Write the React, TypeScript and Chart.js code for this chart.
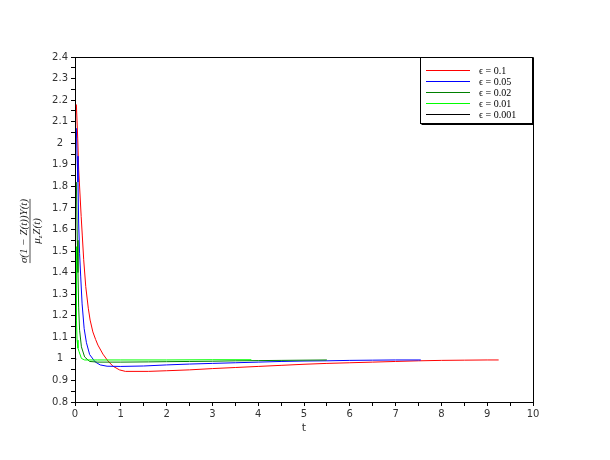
import React, { useEffect, useRef } from "react";
import { Chart, registerables } from "chart.js";

Chart.register(...registerables);

// ---- data ----
const seriesLabels = ["ϵ = 0.1", "ϵ = 0.05", "ϵ = 0.02", "ϵ = 0.01", "ϵ = 0.001"];
const seriesColors = ["#ff0000", "#0000ff", "#008000", "#00ff00", "#000000"];

const redT = [0.03, 0.06, 0.08, 0.11, 0.135, 0.16, 0.19, 0.235, 0.29, 0.33, 0.39, 0.45, 0.5, 0.61, 0.72, 0.83, 0.97, 1.1, 1.6, 2.0, 2.5, 3.0, 3.5, 4.0, 4.5, 5.0, 5.5, 6.0, 6.5, 7.0, 7.5, 8.0, 8.5, 9.0, 9.25];
const redV = [2.18, 2.02, 1.88, 1.76, 1.66, 1.57, 1.46, 1.335, 1.235, 1.18, 1.125, 1.09, 1.064, 1.022, 0.99, 0.966, 0.949, 0.942, 0.942, 0.945, 0.949, 0.955, 0.96, 0.965, 0.97, 0.975, 0.979, 0.982, 0.985, 0.988, 0.991, 0.993, 0.994, 0.995, 0.995];

const blueT = [0.03, 0.045, 0.065, 0.08, 0.1, 0.125, 0.155, 0.2, 0.25, 0.32, 0.44, 0.55, 0.7, 1.0, 1.5, 2.0, 2.5, 3.0, 3.5, 4.0, 4.5, 5.0, 5.5, 6.0, 6.5, 7.0, 7.55];
const blueV = [2.07, 1.94, 1.82, 1.63, 1.49, 1.38, 1.255, 1.14, 1.075, 1.02, 0.986, 0.972, 0.966, 0.965, 0.967, 0.972, 0.976, 0.979, 0.982, 0.985, 0.988, 0.99, 0.991, 0.993, 0.994, 0.995, 0.995];

const greenT = [0.03, 0.05, 0.065, 0.08, 0.1, 0.14, 0.21, 0.32, 0.5, 1.0, 1.6, 2.0, 2.5, 3.0, 3.5, 4.0, 4.5, 5.0, 5.5];
const greenV = [1.82, 1.55, 1.4, 1.24, 1.133, 1.056, 1.009, 0.988, 0.985, 0.985, 0.986, 0.987, 0.988, 0.989, 0.991, 0.992, 0.993, 0.994, 0.995];

const lightT = [0.025, 0.032, 0.045, 0.065, 0.09, 0.14, 0.21, 0.5, 1.0, 2.0, 3.0, 3.85];
const lightV = [1.52, 1.18, 1.087, 1.05, 1.033, 1.002, 0.995, 0.995, 0.995, 0.995, 0.996, 0.996];

const blackT = [0.002, 0.004, 0.007, 0.012, 0.02, 0.03];
const blackV = [2.15, 1.6, 1.25, 1.06, 1.0, 0.999];

const xMin = 0, xMax = 10, xStep = 0.5, xMajor = 1;
const yMin = 0.8, yMax = 2.4, yStep = 0.05, yMajor = 0.1;

const xTitle = "t";
const yTitleNumerator = "σ(1 − Z(t))Y(t)";
const yTitleDenomMain = "μ";
const yTitleDenomSub = "z";
const yTitleDenomRest = "Z(t)";

const isMajor = (v: number, m: number) => Math.abs(v / m - Math.round(v / m)) < 1e-6;
const fmt = (v: number) => String(Number(v.toFixed(2)));

const framePlugin = {
  id: "framePlugin",
  afterDraw(chart: any) {
    const ctx = chart.ctx as CanvasRenderingContext2D;
    const a = chart.chartArea;
    ctx.save();
    // top and right frame
    ctx.strokeStyle = "#000";
    ctx.lineWidth = 1;
    ctx.beginPath();
    ctx.moveTo(Math.round(a.left) + 0.5, Math.round(a.top) + 0.5);
    ctx.lineTo(Math.round(a.right) + 0.5, Math.round(a.top) + 0.5);
    ctx.lineTo(Math.round(a.right) + 0.5, Math.round(a.bottom) + 0.5);
    ctx.stroke();

    // legend box
    const bx = 420.5, by = 57.5, bw = 112, bh = 66;
    ctx.fillStyle = "#fff";
    ctx.fillRect(bx, by, bw, bh);
    ctx.strokeStyle = "#000";
    ctx.strokeRect(bx, by, bw, bh);
    ctx.beginPath();
    ctx.moveTo(bx + bw + 1, by + 1);
    ctx.lineTo(bx + bw + 1, by + bh + 1);
    ctx.lineTo(bx + 1, by + bh + 1);
    ctx.stroke();
    const ds = chart.data.datasets;
    ctx.font = "10px 'Liberation Serif', 'DejaVu Serif', serif";
    ctx.textBaseline = "middle";
    ctx.textAlign = "left";
    for (let i = 0; i < ds.length; i++) {
      const yy = 70 + i * 11.1;
      ctx.strokeStyle = ds[i].borderColor;
      ctx.lineWidth = 1;
      ctx.beginPath();
      ctx.moveTo(426, Math.round(yy) + 0.5);
      ctx.lineTo(470, Math.round(yy) + 0.5);
      ctx.stroke();
      ctx.fillStyle = "#000";
      ctx.fillText(ds[i].label, 479, Math.round(yy) + 1);
    }

    // y axis title (fraction)
    ctx.translate(30, 231);
    ctx.rotate(-Math.PI / 2);
    ctx.fillStyle = "#222";
    ctx.strokeStyle = "#222";
    ctx.textBaseline = "alphabetic";
    ctx.font = "italic 11px 'Liberation Serif', 'DejaVu Serif', serif";
    const nw = ctx.measureText(yTitleNumerator).width;
    ctx.textAlign = "center";
    ctx.fillText(yTitleNumerator, 0, -3);
    ctx.lineWidth = 0.8;
    ctx.beginPath();
    ctx.moveTo(-nw / 2, 0);
    ctx.lineTo(nw / 2, 0);
    ctx.stroke();
    ctx.textAlign = "left";
    const mW = ctx.measureText(yTitleDenomMain).width;
    const rW = ctx.measureText(yTitleDenomRest).width;
    ctx.font = "italic 7px 'Liberation Serif', 'DejaVu Serif', serif";
    const sW = ctx.measureText(yTitleDenomSub).width;
    const total = mW + sW + 1 + rW;
    let x0 = -total / 2;
    ctx.font = "italic 11px 'Liberation Serif', 'DejaVu Serif', serif";
    ctx.fillText(yTitleDenomMain, x0, 10);
    x0 += mW;
    ctx.font = "italic 7px 'Liberation Serif', 'DejaVu Serif', serif";
    ctx.fillText(yTitleDenomSub, x0, 12);
    x0 += sW + 1;
    ctx.font = "italic 11px 'Liberation Serif', 'DejaVu Serif', serif";
    ctx.fillText(yTitleDenomRest, x0, 10);
    ctx.restore();
  },
};

export default function App() {
  const ref = useRef<HTMLCanvasElement>(null);
  useEffect(() => {
    const canvas = ref.current!;
    const seriesT = [redT, blueT, greenT, lightT, blackT];
    const seriesV = [redV, blueV, greenV, lightV, blackV];
    const datasets = seriesLabels.map((label, i) => ({
      label,
      data: seriesT[i].map((x, j) => ({ x, y: seriesV[i][j] })),
      borderColor: seriesColors[i],
      backgroundColor: seriesColors[i],
      borderWidth: 1,
      pointRadius: 0,
      tension: 0,
      fill: false,
      order: seriesLabels.length - i,
    }));
    const tickFont = { family: "'DejaVu Sans', sans-serif", size: 10 };
    const chart = new Chart(canvas, {
      type: "line",
      data: { datasets } as any,
      options: {
        animation: false,
        responsive: false,
        devicePixelRatio: 1,
        layout: { padding: { top: 57, right: 77, left: 0, bottom: 0 } },
        plugins: { legend: { display: false }, tooltip: { enabled: false } },
        scales: {
          x: {
            type: "linear",
            min: xMin,
            max: xMax,
            afterFit: (s: any) => { s.height = 58; },
            ticks: {
              stepSize: xStep,
              autoSkip: false,
              maxRotation: 0,
              padding: 2,
              color: "#333",
              font: tickFont,
              callback: (v: any) => (isMajor(Number(v), xMajor) ? fmt(Number(v)) : ""),
            },
            grid: { drawOnChartArea: false, drawTicks: true, tickLength: 4, color: "#000" },
            border: { display: true, color: "#000", width: 1 },
            title: { display: true, text: xTitle, color: "#333", font: { family: "'DejaVu Sans', sans-serif", size: 11 }, padding: { top: 0, bottom: 25 } },
          },
          y: {
            type: "linear",
            min: yMin,
            max: yMax,
            afterFit: (s: any) => { s.width = 75; },
            ticks: {
              stepSize: yStep,
              autoSkip: false,
              padding: 3,
              crossAlign: "center",
              color: "#333",
              font: tickFont,
              callback: (v: any) => (isMajor(Number(v), yMajor) ? fmt(Number(v)) : ""),
            },
            grid: { drawOnChartArea: false, drawTicks: true, tickLength: 4, color: "#000" },
            border: { display: true, color: "#000", width: 1 },
          },
        },
      } as any,
      plugins: [framePlugin],
    });
    return () => chart.destroy();
  }, []);
  return (
    <div style={{ position: "fixed", left: 0, top: 0, width: 610, height: 460, background: "#fff" }}>
      <canvas ref={ref} width={610} height={460} style={{ display: "block" }} />
    </div>
  );
}
